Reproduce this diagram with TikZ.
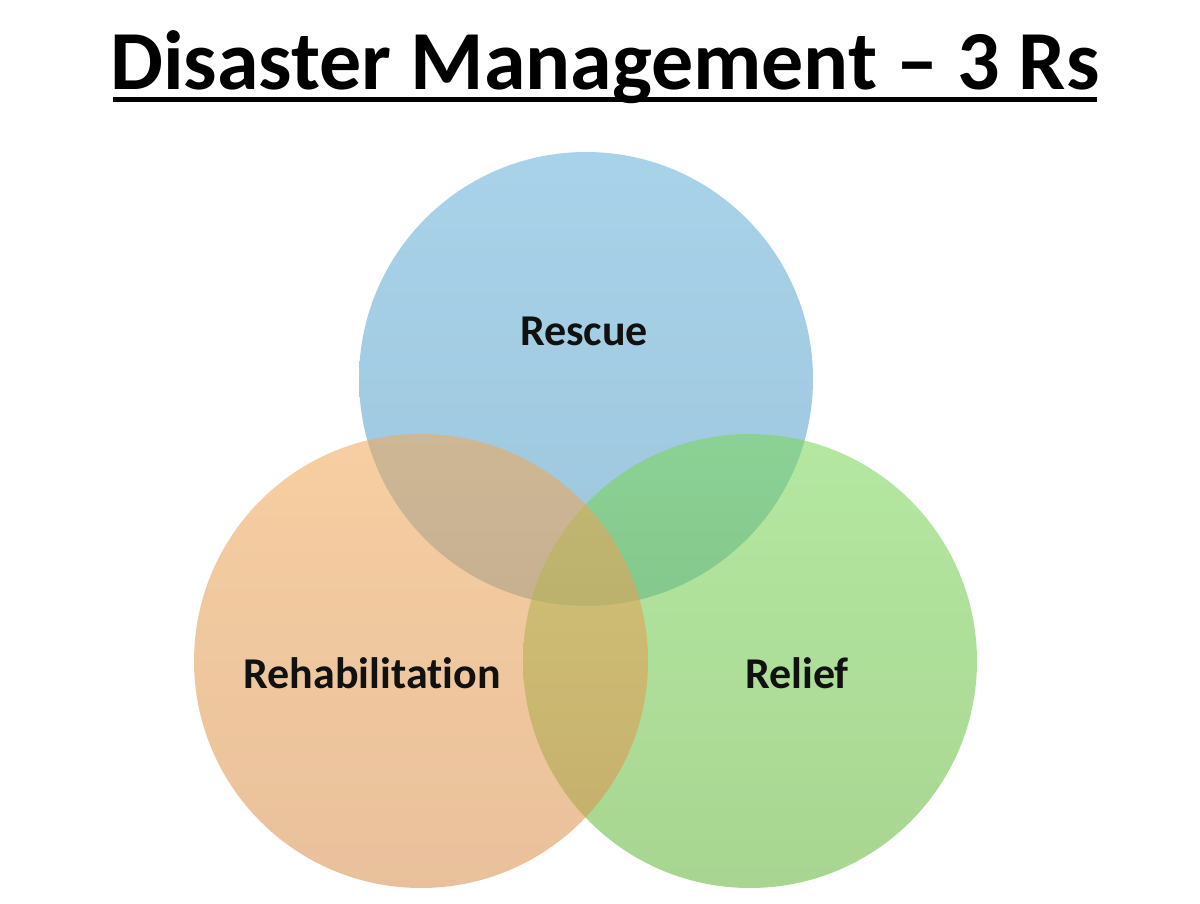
\documentclass[tikz,border=0pt]{standalone}
\usepackage{fontspec}
\setmainfont{Carlito}[Ligatures=NoCommon]
\definecolor{bluetop}{RGB}{101,176,216}
\definecolor{bluebot}{RGB}{82,155,196}
\definecolor{orgtop}{RGB}{241,169,89}
\definecolor{orgbot}{RGB}{216,144,78}
\definecolor{grntop}{RGB}{123,214,89}
\definecolor{grnbot}{RGB}{100,182,60}
\definecolor{txt}{RGB}{17,17,17}
\begin{document}
\begin{tikzpicture}[x=1pt,y=-1pt,
  venn/.style={circle, minimum size=454pt, inner sep=0pt, fill opacity=0.56, draw=none},
  lbl/.style={anchor=base, text=txt, font=\fontsize{44}{50}\selectfont\bfseries, inner sep=0pt},
  ttl/.style={anchor=base, text=black, font=\fontsize{84}{100}\selectfont\bfseries, inner sep=0pt}]
\useasboundingbox (0,0) rectangle (1200,904);
\fill[white] (0,0) rectangle (1200,904);
\node[venn, top color=bluetop, bottom color=bluebot] (rescue) at (586,379) {};
\node[venn, top color=grntop, bottom color=grnbot] (relief) at (750,661) {};
\node[venn, top color=orgtop, bottom color=orgbot] (rehab) at (421,661) {};
\node[lbl] (lrescue) at (584,345) {Rescue};
\node[lbl] (lrehab) at (372,688) {Rehabilitation};
\node[lbl] (lrelief) at (797,688) {Relief};
\node[ttl] (title) at (605,90) {Disaster Management -- 3 Rs};
\coordinate (ul1) at (113,100);
\coordinate (ul2) at (1097,100);
\draw[line width=5pt] (ul1) -- (ul2);
\end{tikzpicture}
\end{document}
